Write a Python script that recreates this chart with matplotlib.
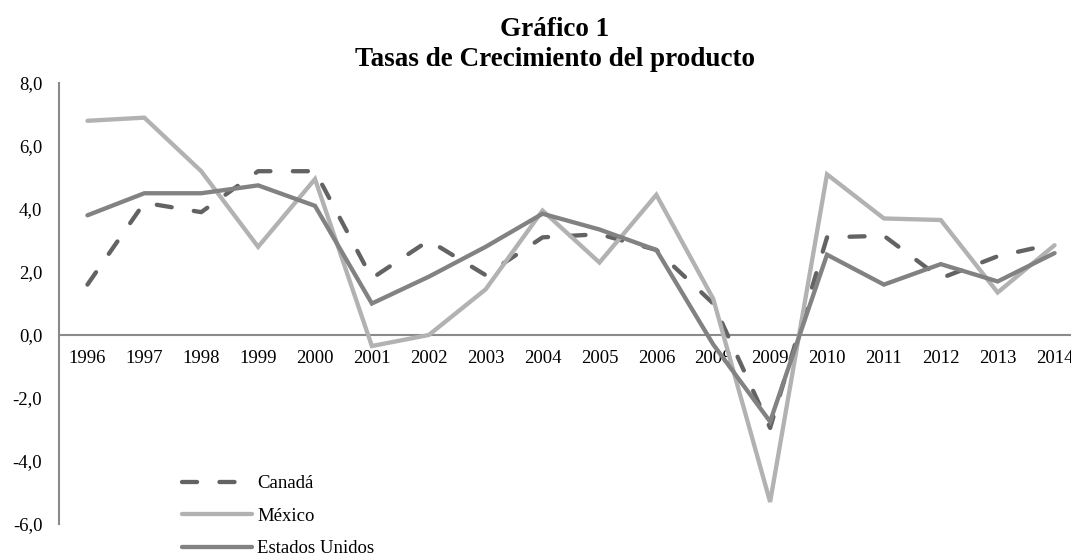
# Growth rates chart: Canada, Mexico, United States (1996-2014, no 2007)
import matplotlib
matplotlib.use("Agg")
import matplotlib.pyplot as plt
from matplotlib.ticker import FuncFormatter

# Step 1
years = ["1996", "1997", "1998", "1999", "2000", "2001", "2002", "2003", "2004",
         "2005", "2006", "2008", "2009", "2010", "2011", "2012", "2013", "2014"]
canada = [1.6, 4.2, 3.9, 5.2, 5.2, 1.8, 3.0, 1.9, 3.1,
          3.2, 2.7, 1.0, -2.95, 3.1, 3.15, 1.8, 2.5, 2.9]
mexico = [6.8, 6.9, 5.2, 2.8, 4.95, -0.35, 0.0, 1.45, 3.95,
          2.3, 4.45, 1.15, -5.3, 5.1, 3.7, 3.65, 1.35, 2.85]
usa = [3.8, 4.5, 4.5, 4.75, 4.1, 1.0, 1.85, 2.8, 3.85,
       3.35, 2.7, -0.3, -2.75, 2.55, 1.6, 2.25, 1.7, 2.6]

SERIF = ["Liberation Serif", "DejaVu Serif"]
plt.rcParams["font.family"] = SERIF

# Step 2 - figure and axes (the plot area runs a bit past the right edge, like the reference)
fig = plt.figure(figsize=(10.71, 5.58), dpi=100)
ax = fig.add_axes([59 / 1071, 1 - 524 / 558, 1024 / 1071, 441 / 558])

x = list(range(len(years)))
ax.plot(x, canada, color="#636363", lw=3.1, ls=(0, (3.5, 5.2)),
        dash_capstyle="round", solid_capstyle="round", label="Canadá", zorder=3)
ax.plot(x, mexico, color="#b2b2b2", lw=3.1, solid_capstyle="round",
        solid_joinstyle="miter", label="México", zorder=3)
ax.plot(x, usa, color="#828282", lw=3.1, solid_capstyle="round",
        solid_joinstyle="miter", label="Estados Unidos", zorder=3)

# Step 3 - axes look
ax.set_xlim(-0.5, len(years) - 0.5)
ax.set_ylim(-6, 8)
ax.set_yticks(range(-6, 9, 2))
ax.yaxis.set_major_formatter(FuncFormatter(lambda v, pos: f"{v:.1f}".replace(".", ",")))
ax.set_xticks(x)
ax.set_xticklabels(years)
ax.tick_params(axis="both", length=0, labelsize=13.5)
ax.tick_params(axis="x", pad=11)
ax.tick_params(axis="y", pad=12)

for side in ["top", "right"]:
    ax.spines[side].set_visible(False)
ax.spines["bottom"].set_position(("data", 0))
for side in ["left", "bottom"]:
    ax.spines[side].set_color("#8a8a8a")
    ax.spines[side].set_linewidth(1.5)

# Step 4 - title, two bold lines
fig.text(555 / 1071, 1 - 30 / 558, "Gráfico 1", ha="center", va="center",
         fontsize=19.5, fontweight="bold")
fig.text(555 / 1071, 1 - 60 / 558, "Tasas de Crecimiento del producto", ha="center",
         va="center", fontsize=19.5, fontweight="bold")

# Step 5 - legend at lower left, no frame
fig.legend(loc="upper left", bbox_to_anchor=(182 / 1071, 1 - 475 / 558),
           frameon=False, fontsize=13.5, handlelength=3.75, handletextpad=0.25,
           labelspacing=0.82, borderpad=0, borderaxespad=0)

fig.savefig("out.png", dpi=100)
